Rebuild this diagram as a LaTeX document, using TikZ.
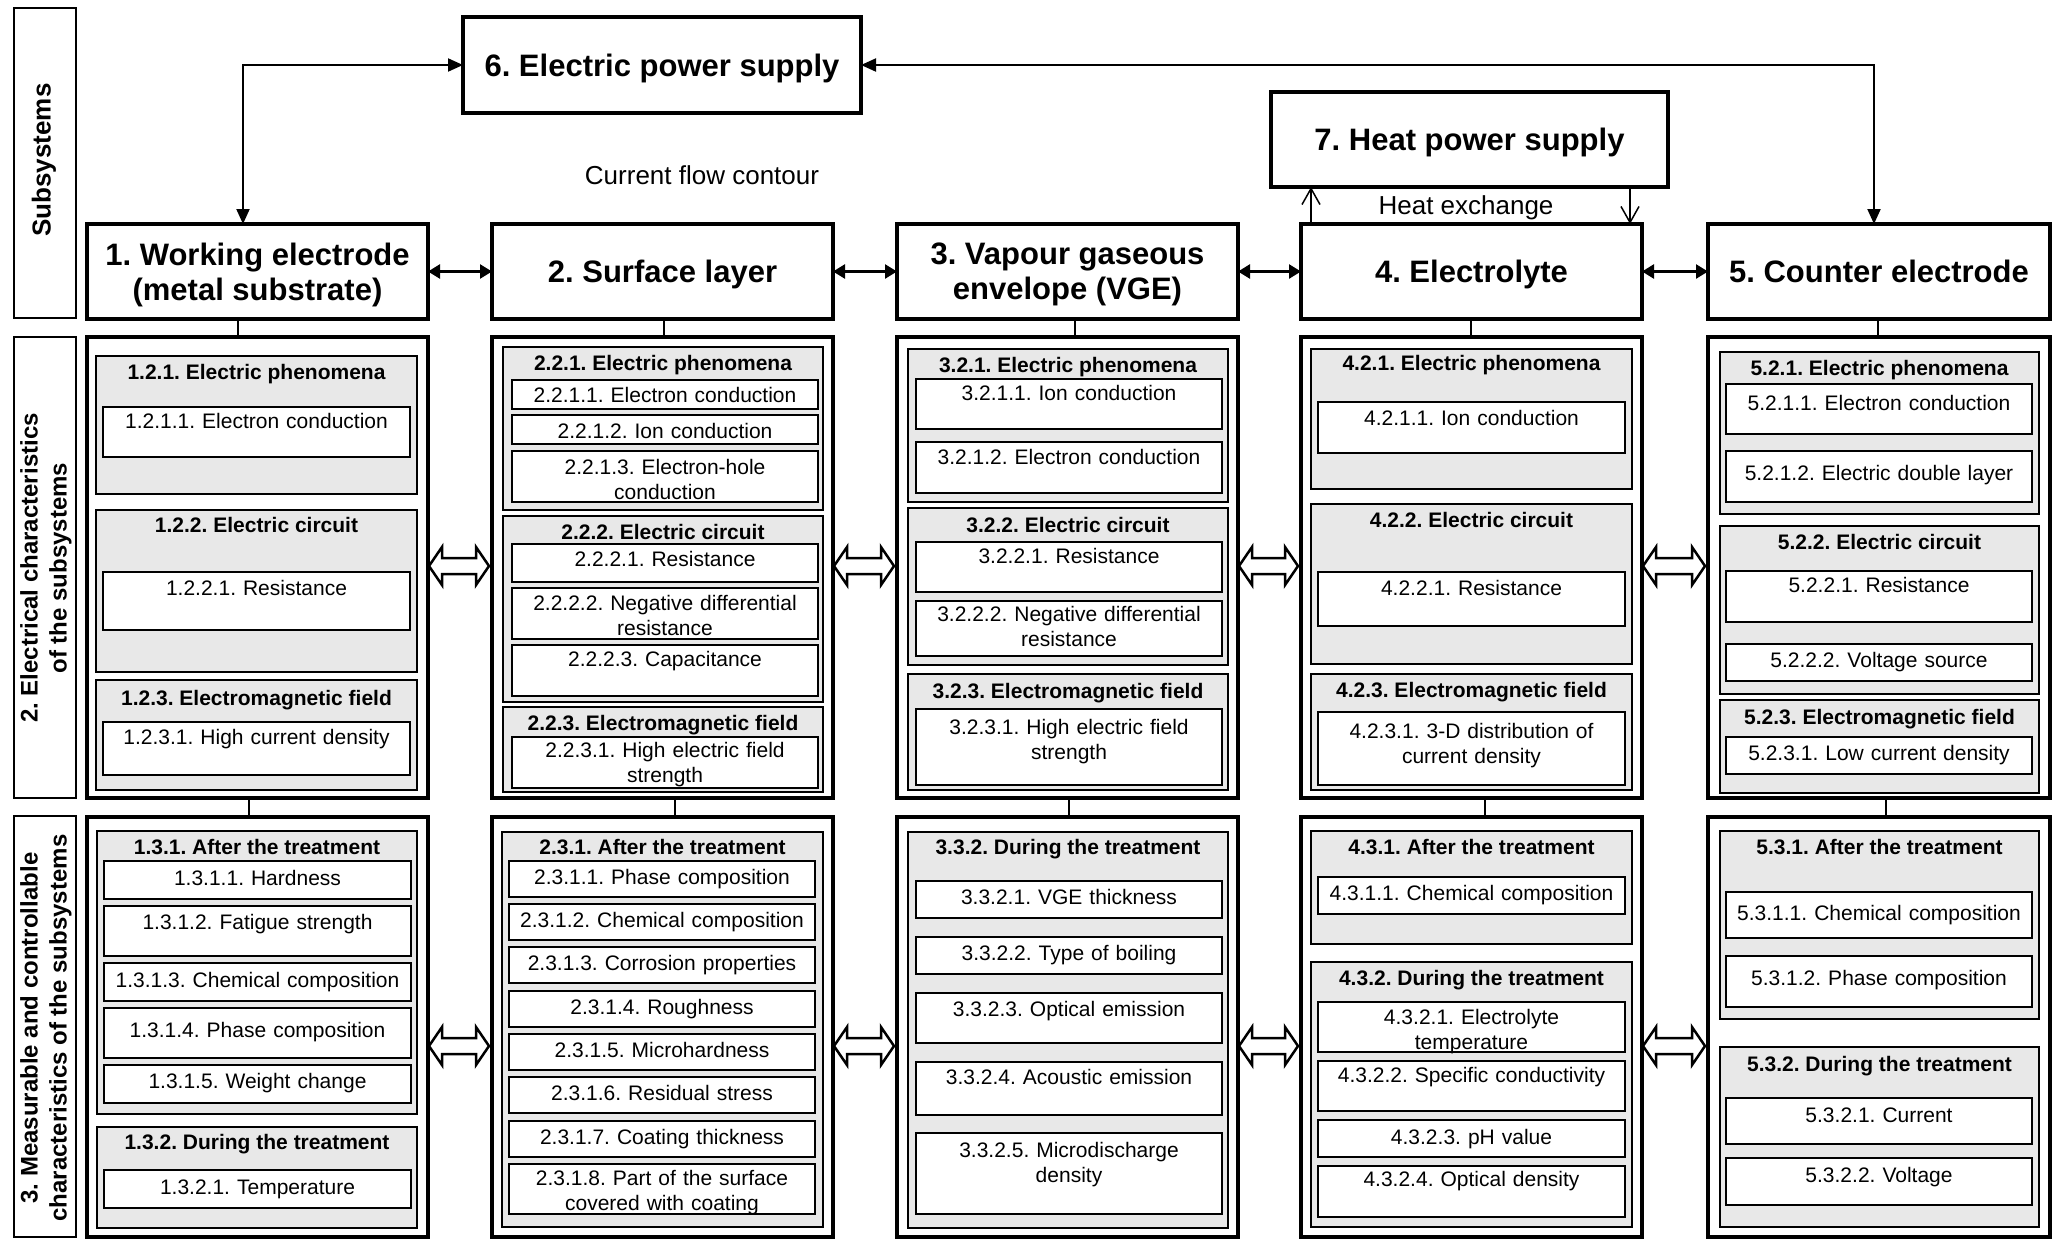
\documentclass[tikz,border=0pt]{standalone}
\usepackage{fontspec}
\setmainfont{Liberation Sans}
\frenchspacing
\usetikzlibrary{arrows.meta,calc}
\definecolor{grpgray}{RGB}{232,232,232}

\tikzset{
  frame/.style={draw=black,line width=4pt,outer sep=0pt,inner sep=0pt,fill=white},
  titlebox/.style={frame,align=center,text depth=0pt,font=\fontsize{31}{35}\selectfont\bfseries},
  grpbox/.style={draw=black,fill=grpgray,line width=2.5pt,outer sep=0pt,inner sep=0pt},
  itembox/.style={draw=black,fill=white,line width=2pt,outer sep=0pt,inner sep=0pt},
  labbox/.style={draw=black,line width=2.5pt,outer sep=0pt,inner sep=0pt},
  headtxt/.style={anchor=base,inner sep=0pt,font=\fontsize{21}{25}\selectfont\bfseries},
  itemtxt/.style={anchor=base,inner sep=0pt,align=center,font=\fontsize{21}{25}\selectfont},
  labtxt/.style={rotate=90,align=center,inner sep=0pt,font=\fontsize{24}{29}\selectfont\bfseries},
  notetxt/.style={inner sep=0pt,font=\fontsize{26}{30}\selectfont},
  conn/.style={line width=2pt},
  pwr/.style={line width=2pt,{Triangle[length=15pt,width=13pt]}-{Triangle[length=15pt,width=13pt]}},
  link/.style={line width=2.5pt,{Triangle[length=12pt,width=14pt]}-{Triangle[length=12pt,width=14pt]}},
  heat/.style={line width=1.5pt,-{Straight Barb[length=16pt,width=18pt]}},
  openarr/.style={draw=black,fill=white,line width=2.5pt,line join=miter}
}

% plain rectangle given by its corners (x1,y1)-(x2,y2)
\newcommand\mkbox[6]{%
  \pgfmathsetmacro\tkw{#5-#3}\pgfmathsetmacro\tkh{#6-#4}%
  \node[#1,anchor=north west,minimum width=\tkw pt,minimum height=\tkh pt] (#2) at (#3,#4) {};}
% subsystem box with centred title
\newcommand\mktitle[6]{%
  \pgfmathsetmacro\tkw{#4-#2}\pgfmathsetmacro\tkh{#5-#3}%
  \pgfmathsetmacro\tkx{(#2+#4)/2}\pgfmathsetmacro\tky{(#3+#5)/2}%
  \node[titlebox,minimum width=\tkw pt,minimum height=\tkh pt] (#1) at (\tkx,\tky) {#6};}
% grey group: name, x1, y1, x2, y2, heading line, heading
\newcommand\mkgrp[7]{%
  \mkbox{grpbox}{#1}{#2}{#3}{#4}{#5}%
  \pgfmathsetmacro\tkx{(#2+#4)/2}\pgfmathsetmacro\tky{#6+7.5}%
  \node[headtxt] (#1h) at (\tkx,\tky) {#7};}
% white item: name, x1, y1, x2, y2, first text line, text
\newcommand\mkitem[7]{%
  \mkbox{itembox}{#1}{#2}{#3}{#4}{#5}%
  \pgfmathsetmacro\tkx{(#2+#4)/2}\pgfmathsetmacro\tky{#6+7.5}\pgfmathsetmacro\tkt{#4-#2-8}%
  \node[itemtxt,text width=\tkt pt] (#1t) at (\tkx,\tky) {#7};}
% hollow double arrow between two frames at height y
\newcommand\openarrow[4]{%
  \coordinate (#4p) at (#1.east |- 0,#3);
  \coordinate (#4q) at (#2.west |- 0,#3);
  \coordinate (#4a) at ([xshift=1pt]#4p);
  \coordinate (#4b) at ([xshift=-3pt]#4q);
  \draw[openarr] (#4a) -- ++(13,-19) -- ++(0,11) -- ($(#4b)+(-13,-8)$) -- ++(0,-11)
    -- (#4b) -- ++(-13,19) -- ++(0,-11) -- ($(#4a)+(13,8)$) -- ++(0,11) -- cycle;}

\begin{document}
\begin{tikzpicture}[x=1pt,y=-1pt]
\fill[white] (0,0) rectangle (2058,1240);
\useasboundingbox (0,0) rectangle (2058,1240);

% row labels
\mkbox{labbox}{lb1}{14}{8}{76}{318}
\mkbox{labbox}{lb2}{14}{337}{76}{798}
\mkbox{labbox}{lb3}{14}{816}{76}{1237}
\node[labtxt,font=\fontsize{26}{29}\selectfont\bfseries] (lt1) at (44,160) {Subsystems};
\node[labtxt] (lt2) at (46,568) {2. Electrical characteristics\\of the subsystems};
\node[labtxt] (lt3) at (46,1028) {3. Measurable and controllable\\characteristics of the subsystems};

% supplies
\mktitle{p6}{463}{17}{861}{113}{6. Electric power supply}
\mktitle{p7}{1271}{92}{1668}{187}{7. Heat power supply}

% subsystems
\mktitle{s1}{87}{224}{428}{319}{1. Working electrode\\(metal substrate)}
\mktitle{s2}{492}{224}{833}{319}{2. Surface layer}
\mktitle{s3}{897}{224}{1238}{319}{3. Vapour gaseous\\envelope (VGE)}
\mktitle{s4}{1301}{224}{1642}{319}{4. Electrolyte}
\mktitle{s5}{1708}{224}{2050}{319}{5. Counter electrode}

\node[notetxt] (cfc) at (702,175) {Current flow contour};
\node[notetxt] (hx) at (1466,208) {Heat exchange};

% current flow contour
\draw[pwr] (p6.west) -| ([xshift=156pt]s1.north west);
\draw[pwr] (p6.east) -| ([xshift=166pt]s5.north west);
\draw[link] (s1.east) -- (s2.west);
\draw[link] (s2.east) -- (s3.west);
\draw[link] (s3.east) -- (s4.west);
\draw[link] (s4.east) -- (s5.west);

% heat exchange
\coordinate (h1) at ([xshift=10pt]s4.north west);
\coordinate (h2) at ([xshift=-12pt]s4.north east);
\draw[heat] (h1) -- (h1 |- p7.south);
\draw[heat] (h2 |- p7.south) -- (h2);

% characteristic frames
\mkbox{frame}{e1}{87}{337}{428}{798}
\mkbox{frame}{e2}{492}{337}{833}{798}
\mkbox{frame}{e3}{897}{337}{1238}{798}
\mkbox{frame}{e4}{1301}{337}{1642}{798}
\mkbox{frame}{e5}{1708}{337}{2050}{798}
\mkbox{frame}{m1}{87}{817}{428}{1237}
\mkbox{frame}{m2}{492}{817}{833}{1237}
\mkbox{frame}{m3}{897}{817}{1238}{1237}
\mkbox{frame}{m4}{1301}{817}{1642}{1237}
\mkbox{frame}{m5}{1708}{817}{2050}{1237}

\draw[conn] ([xshift=151pt]s1.south west) -- ([xshift=151pt]e1.north west);
\draw[conn] ([xshift=172pt]s2.south west) -- ([xshift=172pt]e2.north west);
\draw[conn] ([xshift=178pt]s3.south west) -- ([xshift=178pt]e3.north west);
\draw[conn] ([xshift=170pt]s4.south west) -- ([xshift=170pt]e4.north west);
\draw[conn] ([xshift=170pt]s5.south west) -- ([xshift=170pt]e5.north west);
\draw[conn] ([xshift=162pt]e1.south west) -- ([xshift=162pt]m1.north west);
\draw[conn] ([xshift=183pt]e2.south west) -- ([xshift=183pt]m2.north west);
\draw[conn] ([xshift=172pt]e3.south west) -- ([xshift=172pt]m3.north west);
\draw[conn] ([xshift=184pt]e4.south west) -- ([xshift=184pt]m4.north west);
\draw[conn] ([xshift=178pt]e5.south west) -- ([xshift=178pt]m5.north west);

\openarrow{e1}{e2}{566}{oa1}
\openarrow{e2}{e3}{566}{oa2}
\openarrow{e3}{e4}{566}{oa3}
\openarrow{e4}{e5}{566}{oa4}
\openarrow{m1}{m2}{1046}{ob1}
\openarrow{m2}{m3}{1046}{ob2}
\openarrow{m3}{m4}{1046}{ob3}
\openarrow{m4}{m5}{1046}{ob4}

% ---- electrical characteristics ----
% 1 working electrode
\mkgrp{g121}{96}{356}{417}{494}{372}{1.2.1. Electric phenomena}
\mkitem{i1211}{103}{407}{410}{457}{421}{1.2.1.1. Electron conduction}
\mkgrp{g122}{96}{510}{417}{672}{525}{1.2.2. Electric circuit}
\mkitem{i1221}{103}{572}{410}{630}{588}{1.2.2.1. Resistance}
\mkgrp{g123}{96}{680}{417}{790}{698}{1.2.3. Electromagnetic field}
\mkitem{i1231}{103}{722}{410}{775}{737}{1.2.3.1. High current density}
% 2 surface layer
\mkgrp{g221}{503}{347}{823}{510}{363}{2.2.1. Electric phenomena}
\mkitem{i2211}{512}{380}{818}{409}{395}{2.2.1.1. Electron conduction}
\mkitem{i2212}{512}{415}{818}{444}{431}{2.2.1.2. Ion conduction}
\mkitem{i2213}{512}{451}{818}{502}{467}{2.2.1.3. Electron-hole\\conduction}
\mkgrp{g222}{503}{516}{823}{702}{532}{2.2.2. Electric circuit}
\mkitem{i2221}{512}{544}{818}{582}{559}{2.2.2.1. Resistance}
\mkitem{i2222}{512}{588}{818}{639}{603}{2.2.2.2. Negative differential\\resistance}
\mkitem{i2223}{512}{645}{818}{696}{659}{2.2.2.3. Capacitance}
\mkgrp{g223}{503}{707}{823}{792}{723}{2.2.3. Electromagnetic field}
\mkitem{i2231}{512}{737}{818}{788}{750}{2.2.3.1. High electric field\\strength}
% 3 vapour gaseous envelope
\mkgrp{g321}{908}{349}{1228}{502}{365}{3.2.1. Electric phenomena}
\mkitem{i3211}{916}{379}{1222}{429}{393}{3.2.1.1. Ion conduction}
\mkitem{i3212}{916}{442}{1222}{493}{457}{3.2.1.2. Electron conduction}
\mkgrp{g322}{908}{508}{1228}{665}{525}{3.2.2. Electric circuit}
\mkitem{i3221}{916}{542}{1222}{592}{556}{3.2.2.1. Resistance}
\mkitem{i3222}{916}{601}{1222}{656}{614}{3.2.2.2. Negative differential\\resistance}
\mkgrp{g323}{908}{674}{1228}{790}{691}{3.2.3. Electromagnetic field}
\mkitem{i3231}{916}{709}{1222}{785}{727}{3.2.3.1. High electric field\\strength}
% 4 electrolyte
\mkgrp{g421}{1311}{349}{1632}{489}{363}{4.2.1. Electric phenomena}
\mkitem{i4211}{1318}{402}{1625}{453}{418}{4.2.1.1. Ion conduction}
\mkgrp{g422}{1311}{504}{1632}{664}{520}{4.2.2. Electric circuit}
\mkitem{i4221}{1318}{572}{1625}{626}{588}{4.2.2.1. Resistance}
\mkgrp{g423}{1311}{674}{1632}{790}{690}{4.2.3. Electromagnetic field}
\mkitem{i4231}{1318}{712}{1625}{785}{731}{4.2.3.1. 3-D distribution of\\current density}
% 5 counter electrode
\mkgrp{g521}{1720}{352}{2039}{514}{368}{5.2.1. Electric phenomena}
\mkitem{i5211}{1726}{384}{2032}{434}{403}{5.2.1.1. Electron conduction}
\mkitem{i5212}{1726}{451}{2032}{502}{473}{5.2.1.2. Electric double layer}
\mkgrp{g522}{1720}{526}{2039}{694}{542}{5.2.2. Electric circuit}
\mkitem{i5221}{1726}{571}{2032}{622}{585}{5.2.2.1. Resistance}
\mkitem{i5222}{1726}{644}{2032}{681}{660}{5.2.2.2. Voltage source}
\mkgrp{g523}{1720}{700}{2039}{793}{717}{5.2.3. Electromagnetic field}
\mkitem{i5231}{1726}{737}{2032}{774}{753}{5.2.3.1. Low current density}

% ---- measurable and controllable characteristics ----
% 1 working electrode
\mkgrp{g131}{97}{831}{417}{1114}{847}{1.3.1. After the treatment}
\mkitem{i1311}{104}{861}{411}{899}{878}{1.3.1.1. Hardness}
\mkitem{i1312}{104}{906}{411}{956}{922}{1.3.1.2. Fatigue strength}
\mkitem{i1313}{104}{963}{411}{1001}{980}{1.3.1.3. Chemical composition}
\mkitem{i1314}{104}{1008}{411}{1058}{1030}{1.3.1.4. Phase composition}
\mkitem{i1315}{104}{1065}{411}{1103}{1081}{1.3.1.5. Weight change}
\mkgrp{g132}{97}{1127}{417}{1228}{1142}{1.3.2. During the treatment}
\mkitem{i1321}{104}{1170}{411}{1208}{1187}{1.3.2.1. Temperature}
% 2 surface layer
\mkgrp{g231}{502}{832}{823}{1227}{847}{2.3.1. After the treatment}
\mkitem{i2311}{509}{861}{815}{897}{877}{2.3.1.1. Phase composition}
\mkitem{i2312}{509}{904}{815}{940}{920}{2.3.1.2. Chemical composition}
\mkitem{i2313}{509}{947}{815}{983}{963}{2.3.1.3. Corrosion properties}
\mkitem{i2314}{509}{991}{815}{1027}{1007}{2.3.1.4. Roughness}
\mkitem{i2315}{509}{1034}{815}{1070}{1050}{2.3.1.5. Microhardness}
\mkitem{i2316}{509}{1077}{815}{1113}{1093}{2.3.1.6. Residual stress}
\mkitem{i2317}{509}{1121}{815}{1157}{1137}{2.3.1.7. Coating thickness}
\mkitem{i2318}{509}{1164}{815}{1214}{1178}{2.3.1.8. Part of the surface\\covered with coating}
% 3 vapour gaseous envelope
\mkgrp{g332}{908}{832}{1228}{1228}{847}{3.3.2. During the treatment}
\mkitem{i3321}{916}{881}{1222}{918}{897}{3.3.2.1. VGE thickness}
\mkitem{i3322}{916}{937}{1222}{974}{953}{3.3.2.2. Type of boiling}
\mkitem{i3323}{916}{993}{1222}{1043}{1009}{3.3.2.3. Optical emission}
\mkitem{i3324}{916}{1062}{1222}{1115}{1077}{3.3.2.4. Acoustic emission}
\mkitem{i3325}{916}{1133}{1222}{1214}{1150}{3.3.2.5. Microdischarge\\density}
% 4 electrolyte
\mkgrp{g431}{1311}{831}{1632}{944}{847}{4.3.1. After the treatment}
\mkitem{i4311}{1318}{877}{1625}{914}{893}{4.3.1.1. Chemical composition}
\mkgrp{g432}{1311}{962}{1632}{1227}{978}{4.3.2. During the treatment}
\mkitem{i4321}{1318}{1002}{1625}{1052}{1017}{4.3.2.1. Electrolyte\\temperature}
\mkitem{i4322}{1318}{1061}{1625}{1111}{1075}{4.3.2.2. Specific conductivity}
\mkitem{i4323}{1318}{1120}{1625}{1157}{1137}{4.3.2.3. pH value}
\mkitem{i4324}{1318}{1166}{1625}{1217}{1179}{4.3.2.4. Optical density}
% 5 counter electrode
\mkgrp{g531}{1720}{831}{2039}{1019}{847}{5.3.1. After the treatment}
\mkitem{i5311}{1726}{892}{2032}{938}{913}{5.3.1.1. Chemical composition}
\mkitem{i5312}{1726}{956}{2032}{1007}{978}{5.3.1.2. Phase composition}
\mkgrp{g532}{1720}{1047}{2039}{1227}{1064}{5.3.2. During the treatment}
\mkitem{i5321}{1726}{1098}{2032}{1144}{1115}{5.3.2.1. Current}
\mkitem{i5322}{1726}{1158}{2032}{1205}{1175}{5.3.2.2. Voltage}
\end{tikzpicture}
\end{document}
